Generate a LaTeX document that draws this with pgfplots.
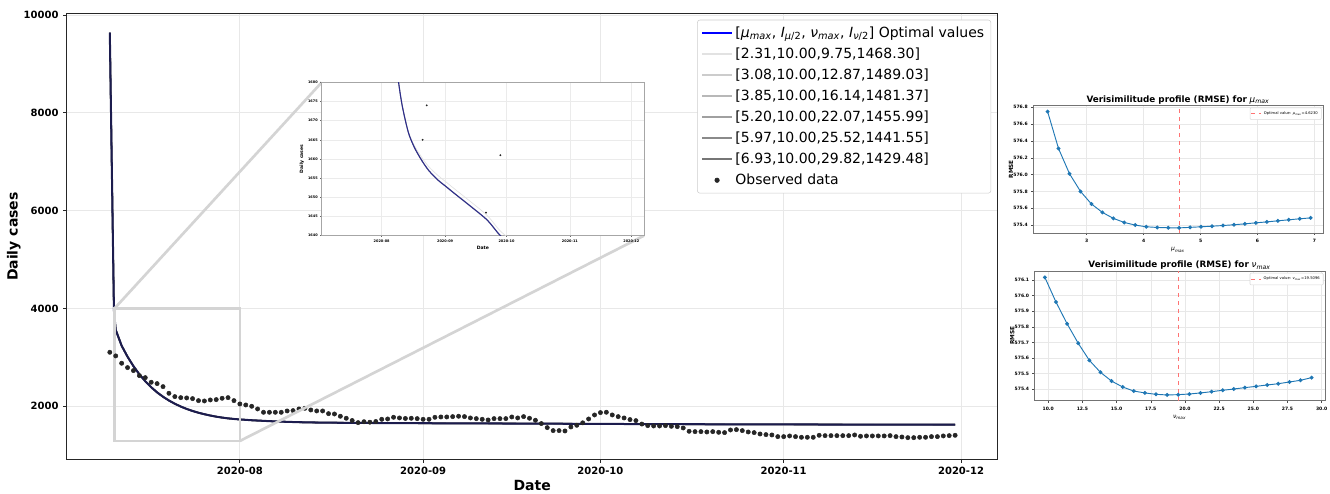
\documentclass[border=0pt]{standalone}
\usepackage{fontspec}
\setmainfont{DejaVu Sans}
\usepackage{pgfplots}
\usepackage{pgfplotstable}
\pgfplotsset{compat=1.18}
\definecolor{fitcol}{RGB}{28,28,78}
\definecolor{insetfit}{RGB}{45,45,140}
\definecolor{obs}{RGB}{38,38,38}
\definecolor{mplblue}{RGB}{31,119,180}
\definecolor{g1}{RGB}{226,226,226}
\definecolor{g2}{RGB}{204,204,204}
\definecolor{g3}{RGB}{184,184,184}
\definecolor{g4}{RGB}{160,160,160}
\definecolor{g5}{RGB}{138,138,138}
\definecolor{g6}{RGB}{118,118,118}
\newcommand{\mumax}{\textit{μ}\textsubscript{\textit{max}}}
\newcommand{\numax}{\textit{ν}\textsubscript{\textit{max}}}

% observed daily cases, d = days since 2020-08-01
\pgfplotstableread{
d v
-22 3103
-21 3029
-20 2879
-19 2790
-18 2729
-17 2626
-16 2585
-15 2490
-14 2463
-13 2401
-12 2265
-11 2197
-10 2176
-9 2170
-8 2156
-7 2115
-6 2108
-5 2129
-4 2136
-3 2163
-2 2176
-1 2115
0 2047
1 2026
2 1999
3 1945
4 1876
5 1876
6 1876
7 1876
8 1904
9 1911
10 1945
11 1958
12 1924
13 1904
14 1904
15 1849
16 1842
17 1795
18 1754
19 1708
20 1665
21 1684
22 1674
23 1688
24 1733
25 1740
26 1774
27 1761
28 1750
29 1754
30 1747
31 1733
32 1733
33 1774
34 1781
35 1781
36 1788
37 1795
38 1788
39 1761
40 1747
41 1733
42 1720
43 1747
44 1747
45 1747
46 1781
47 1761
48 1788
49 1754
50 1713
51 1646
52 1563
53 1502
54 1502
55 1495
56 1577
57 1611
58 1661
59 1740
60 1822
61 1870
62 1877
63 1822
64 1788
65 1761
66 1727
67 1706
68 1636
69 1604
70 1597
71 1597
72 1604
73 1590
74 1583
75 1556
76 1488
77 1481
78 1481
79 1474
80 1481
81 1467
82 1461
83 1515
84 1522
85 1502
86 1474
87 1461
88 1433
89 1420
90 1413
91 1379
92 1379
93 1393
94 1379
95 1365
96 1365
97 1365
98 1406
99 1399
100 1399
101 1399
102 1399
103 1399
104 1413
105 1386
106 1393
107 1393
108 1393
109 1393
110 1399
111 1379
112 1372
113 1358
114 1358
115 1365
116 1365
117 1379
118 1379
119 1393
120 1399
121 1406
}\obsdata

% fitted model (optimal values)
\pgfplotstableread{
d v
-22 9640
-21.3 3950
-21 3560
-20 3237
-19 3012
-18 2819
-17 2653
-16 2511
-15 2388
-14 2284
-13 2194
-12 2117
-11 2051
-10 1994
-9 1945
-8 1903
-7 1867
-6 1837
-5 1810
-4 1787
-3 1768
-2 1752
-1 1740
0 1730
2 1714
4 1701
6 1690
8 1681
10 1674
13 1667
16 1663
19.5 1659.7
23 1657
27.5 1654.5
31 1653
35.6 1651
43.6 1647.6
51.7 1644
58 1640
65 1637
75 1633
85 1630
95 1627.5
105 1625
121 1622
}\fitdata

% profile curve with mu_max = 2.31
\pgfplotstableread{
d v
-22 9640
-21.3 3950
-21 3560
-20 3237
-19 3012
-18 2819
-17 2653
-16 2511
-15 2388
-14 2284
-13 2194
-12 2117
-11 2051
-10 1994
-9 1945
-8 1903
-7 1867
-6 1837
-5 1810
-4 1787
-3 1768
-2 1752
-1 1740
0 1730
2 1714
4 1701
6 1690
8 1681
10 1674
13 1667.2
16 1663.5
19.5 1660.5
23 1658
27.5 1655.7
31 1654.2
35.6 1652.2
43.6 1648.8
51.7 1645.2
58 1641.2
65 1638.2
75 1634.2
85 1631.2
95 1628.7
105 1626.2
121 1623.2
}\fitlight

\pgfplotstableread{
x v
2.312 576.75
2.504 576.31
2.697 576.01
2.890 575.80
3.082 575.65
3.275 575.55
3.467 575.479
3.660 575.43
3.852 575.399
4.045 575.379
4.238 575.371
4.430 575.367
4.623 575.366
4.815 575.372
5.008 575.379
5.201 575.386
5.393 575.394
5.586 575.403
5.778 575.414
5.971 575.426
6.164 575.437
6.356 575.450
6.549 575.462
6.741 575.474
6.934 575.485
}\muprof

\pgfplotstableread{
x v
9.755 576.117
10.568 575.959
11.381 575.820
12.194 575.695
13.007 575.586
13.820 575.509
14.632 575.453
15.445 575.415
16.258 575.389
17.071 575.377
17.884 575.368
18.697 575.364
19.510 575.366
20.322 575.370
21.135 575.377
21.948 575.385
22.761 575.394
23.574 575.402
24.387 575.411
25.200 575.419
26.013 575.428
26.825 575.436
27.638 575.447
28.451 575.458
29.264 575.475
}\nuprof

\begin{document}
\begin{tikzpicture}
\useasboundingbox (0,0) rectangle (997.5pt,369.75pt);

% ---------------- main axis ----------------
\begin{axis}[
  at={(50pt,25.3pt)}, anchor=south west,
  scale only axis, width=698.25pt, height=334pt,
  xmin=-29.3, xmax=128.2, ymin=916, ymax=10020,
  xtick={0,31,61,92,122},
  xticklabels={2020-08,2020-09,2020-10,2020-11,2020-12},
  ytick={2000,4000,6000,8000,10000},
  /pgf/number format/assume math mode=true,
  yticklabel style={/pgf/number format/1000 sep={}},
  scaled y ticks=false,
  ticklabel style={font=\fontsize{7.5}{9}\bfseries\selectfont},
  tick align=outside, major tick length=2.6pt,
  tick style={black!85, line width=0.6pt},
  xtick pos=lower, ytick pos=left,
  grid=major, grid style={black!9, line width=0.6pt},
  axis line style={black!85, line width=0.8pt},
  xlabel={Date}, ylabel={Daily cases},
  label style={font=\fontsize{10.5}{12}\bfseries\selectfont},
  xlabel style={yshift=3.2pt}, ylabel style={yshift=-4.5pt},
  legend cell align=left,
  legend image code/.code={\draw[#1] (0pt,0pt) -- (22pt,0pt);},
  legend style={at={(0.993,0.987)}, anchor=north east,
    font=\fontsize{10.5}{12.6}\selectfont, draw=black!20, fill=white,
    rounded corners=2pt, row sep=2.3pt, inner sep=3pt},
]
\addplot[g1, line width=1.2pt, forget plot] table[x=d,y=v] {\fitlight};
\addplot[g2, line width=1.2pt, forget plot] table[x=d,y=v] {\fitdata};
\addplot[g3, line width=1.2pt, forget plot] table[x=d,y=v] {\fitdata};
\addplot[g4, line width=1.2pt, forget plot] table[x=d,y=v] {\fitdata};
\addplot[g5, line width=1.2pt, forget plot] table[x=d,y=v] {\fitdata};
\addplot[g6, line width=1.2pt, forget plot] table[x=d,y=v] {\fitdata};
\addplot[fitcol, line width=1.5pt, forget plot] table[x=d,y=v] {\fitdata};
\addplot[only marks, mark=*, mark size=1.6pt, color=obs, forget plot] table[x=d,y=v] {\obsdata};
\draw[black!17, line width=2pt] (axis cs:-21.2,1290) rectangle (axis cs:0,4000);
\coordinate (zA) at (axis cs:-21.2,4000);
\coordinate (zB) at (axis cs:0,1290);

\addlegendimage{blue, line width=1.6pt}
\addlegendentry{[\mumax, \textit{I}\textsubscript{\textit{μ}/2}, \numax, \textit{I}\textsubscript{\textit{ν}/2}] Optimal values}
\addlegendimage{g1, line width=1.2pt}
\addlegendentry{[2.31,10.00,9.75,1468.30]}
\addlegendimage{g2, line width=1.2pt}
\addlegendentry{[3.08,10.00,12.87,1489.03]}
\addlegendimage{g3, line width=1.2pt}
\addlegendentry{[3.85,10.00,16.14,1481.37]}
\addlegendimage{g4, line width=1.2pt}
\addlegendentry{[5.20,10.00,22.07,1455.99]}
\addlegendimage{g5, line width=1.2pt}
\addlegendentry{[5.97,10.00,25.52,1441.55]}
\addlegendimage{g6, line width=1.5pt}
\addlegendentry{[6.93,10.00,29.82,1429.48]}
\addlegendimage{legend image code/.code={\fill[obs] (11pt,0pt) circle (1.7pt);}}
\addlegendentry{Observed data}
\end{axis}

\draw[black!17, line width=2pt] (zA) -- (241.3pt,308pt);
\draw[black!17, line width=2pt] (zB) -- (483pt,193pt);

% ---------------- inset ----------------
\begin{axis}[
  at={(241.3pt,193pt)}, anchor=south west,
  scale only axis, width=241.7pt, height=115pt,
  xmin=-29.3, xmax=128.2, ymin=1640, ymax=1680,
  restrict y to domain*=1600:1720,
  axis background/.style={fill=white},
  xtick={0,31,61,92,122},
  xticklabels={2020-08,2020-09,2020-10,2020-11,2020-12},
  ytick={1640,1645,...,1680},
  /pgf/number format/assume math mode=true,
  yticklabel style={/pgf/number format/1000 sep={}},
  scaled y ticks=false,
  ticklabel style={font=\fontsize{2.6}{3}\bfseries\selectfont},
  tick align=outside, major tick length=1pt,
  tick style={black!60, line width=0.3pt},
  xtick pos=lower, ytick pos=left,
  xticklabel style={yshift=1.5pt}, yticklabel style={xshift=1.5pt},
  grid=major, grid style={black!8, line width=0.3pt},
  axis line style={black!35, line width=0.7pt},
  xlabel={Date}, ylabel={Daily cases},
  label style={font=\fontsize{3.4}{4}\bfseries\selectfont},
  xlabel style={yshift=4pt}, ylabel style={yshift=-4pt},
]
\addplot[g1, line width=0.5pt, smooth, tension=0.5] table[x=d,y=v] {\fitlight};
\addplot[g4, line width=0.8pt, smooth, tension=0.5] table[x=d,y=v] {\fitdata};
\addplot[insetfit, line width=0.8pt, smooth, tension=0.5] table[x=d,y=v] {\fitdata};
\addplot[only marks, mark=*, mark size=0.45pt, color=obs, restrict y to domain=1640:1680] table[x=d,y=v] {\obsdata};
\end{axis}

% ---------------- profile mu ----------------
\begin{axis}[
  at={(774.75pt,195pt)}, anchor=south west,
  scale only axis, width=217.5pt, height=95.5pt,
  xmin=2.056, xmax=7.15, ymin=575.305, ymax=576.82,
  xtick={3,4,5,6,7},
  ytick={575.4,575.6,575.8,576.0,576.2,576.4,576.6,576.8},
  /pgf/number format/assume math mode=true,
  yticklabel style={/pgf/number format/fixed, /pgf/number format/precision=1, /pgf/number format/fixed zerofill, xshift=1pt},
  scaled ticks=false,
  ticklabel style={font=\fontsize{3.4}{4}\bfseries\selectfont},
  tick align=outside, major tick length=1.4pt,
  tick style={black!70, line width=0.4pt},
  xtick pos=lower, ytick pos=left,
  grid=major, grid style={black!9, line width=0.4pt},
  axis line style={black!55, line width=0.6pt},
  title={\textbf{Verisimilitude profile (RMSE) for} \mumax},
  title style={font=\fontsize{6.6}{7.5}\selectfont, yshift=-8.5pt},
  xlabel={\mumax}, ylabel={\textbf{RMSE}},
  xlabel style={font=\fontsize{4.5}{5}\selectfont, yshift=3.5pt},
  ylabel style={font=\fontsize{4.3}{5}\selectfont, at={(axis description cs:-0.076,0.5)}, anchor=center},
  legend image code/.code={\draw[#1] (0pt,0pt) -- (7pt,0pt);},
  legend style={at={(0.995,0.985)}, anchor=north east,
    font=\fontsize{2.8}{3.2}\selectfont, draw=black!15, fill=white, inner sep=0.6pt,
    rounded corners=0.8pt},
]
\addplot[mplblue, line width=0.7pt, mark=*, mark size=1.1pt, forget plot] table[x=x,y=v] {\muprof};
\addplot[red!55, dashed, line width=0.7pt] coordinates {(4.623,575.305) (4.623,576.82)};
\addlegendentry{Optimal value: \mumax=4.6230}
\end{axis}

% ---------------- profile nu ----------------
\begin{axis}[
  at={(775.7pt,69.2pt)}, anchor=south west,
  scale only axis, width=218pt, height=97.3pt,
  xmin=8.98, xmax=30.24, ymin=575.327, ymax=576.158,
  xtick={10,12.5,15,17.5,20,22.5,25,27.5,30},
  ytick={575.4,575.5,575.6,575.7,575.8,575.9,576.0,576.1},
  /pgf/number format/assume math mode=true,
  xticklabel style={/pgf/number format/fixed, /pgf/number format/precision=1, /pgf/number format/fixed zerofill},
  yticklabel style={/pgf/number format/fixed, /pgf/number format/precision=1, /pgf/number format/fixed zerofill, xshift=1pt},
  scaled ticks=false,
  ticklabel style={font=\fontsize{3.4}{4}\bfseries\selectfont},
  tick align=outside, major tick length=1.4pt,
  tick style={black!70, line width=0.4pt},
  xtick pos=lower, ytick pos=left,
  grid=major, grid style={black!9, line width=0.4pt},
  axis line style={black!55, line width=0.6pt},
  title={\textbf{Verisimilitude profile (RMSE) for} \numax},
  title style={font=\fontsize{6.6}{7.5}\selectfont, yshift=-8.5pt},
  xlabel={\numax}, ylabel={\textbf{RMSE}},
  xlabel style={font=\fontsize{4.5}{5}\selectfont, yshift=3.5pt},
  ylabel style={font=\fontsize{4.3}{5}\selectfont, at={(axis description cs:-0.076,0.5)}, anchor=center},
  legend image code/.code={\draw[#1] (0pt,0pt) -- (7pt,0pt);},
  legend style={at={(0.995,0.985)}, anchor=north east,
    font=\fontsize{2.8}{3.2}\selectfont, draw=black!15, fill=white, inner sep=0.6pt,
    rounded corners=0.8pt},
]
\addplot[mplblue, line width=0.7pt, mark=*, mark size=1.1pt, forget plot] table[x=x,y=v] {\nuprof};
\addplot[red!55, dashed, line width=0.7pt] coordinates {(19.5096,575.327) (19.5096,576.158)};
\addlegendentry{Optimal value: \numax=19.5096}
\end{axis}
\end{tikzpicture}
\end{document}
